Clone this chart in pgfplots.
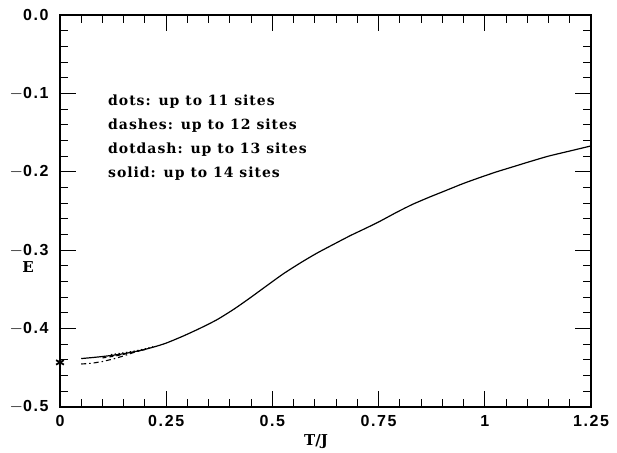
\documentclass[border=0pt]{standalone}
\usepackage{fontspec}
\setmainfont{Liberation Sans}
\newfontfamily\legfont[LetterSpace=7]{DejaVu Serif}
\newfontfamily\tickfont[LetterSpace=10]{Liberation Sans}
\newfontfamily\labfont{DejaVu Serif}
\usepackage{pgfplots}
\pgfplotsset{compat=1.18}
\begin{document}
\begin{tikzpicture}
\begin{axis}[
  scale only axis,
  width=531pt, height=392pt,
  xmin=0, xmax=1.25, ymin=-0.5, ymax=0,
  clip=false,
  axis line style={line width=1.2pt},
  tick style={line width=1pt, black},
  tick align=inside,
  major tick length=16pt,
  minor tick length=8pt,
  xtick={0,0.25,0.5,0.75,1,1.25},
  xticklabels={0,0.25,0.5,0.75,1,1.25},
  ytick={-0.5,-0.4,-0.3,-0.2,-0.1,0},
  yticklabels={$-$0.5,$-$0.4,$-$0.3,$-$0.2,$-$0.1,0.0},
  minor x tick num=4,
  minor y tick num=4,
  ticklabel style={font=\tickfont\fontsize{16}{18}\selectfont\bfseries},
  xticklabel style={yshift=-5pt},
  yticklabel style={xshift=-8pt},
]
\addplot[black, line width=1.2pt, smooth, tension=0.4] coordinates {
(0.05,-0.4382) (0.075,-0.4370) (0.1,-0.4356) (0.125,-0.4340) (0.15,-0.4320)
(0.175,-0.4295) (0.2,-0.4265) (0.225,-0.4228) (0.25,-0.4185) (0.29,-0.4095)
(0.33,-0.3995) (0.37,-0.3885) (0.41,-0.3750) (0.447,-0.3610) (0.49,-0.3440)
(0.526,-0.3300) (0.565,-0.3165) (0.604,-0.3040) (0.644,-0.2925) (0.683,-0.2815)
(0.714,-0.2735) (0.75,-0.2640) (0.793,-0.2515) (0.83,-0.2415) (0.871,-0.2320)
(0.91,-0.2235) (0.949,-0.2150) (0.99,-0.2070) (1.028,-0.2000) (1.067,-0.1935)
(1.106,-0.1870) (1.15,-0.1800) (1.2,-0.1735) (1.25,-0.1670)
};
\addplot[black, line width=1.1pt, dash pattern=on 5pt off 3pt on 1.5pt off 3pt] coordinates {
(0.05,-0.4452) (0.075,-0.4442) (0.1,-0.4420) (0.125,-0.4388) (0.15,-0.4348)
(0.175,-0.4302) (0.2,-0.4266)
};
\addplot[black, line width=1.1pt, dash pattern=on 4pt off 3pt] coordinates {
(0.1,-0.4374) (0.125,-0.4354) (0.15,-0.4328) (0.175,-0.4298) (0.2,-0.4266)
};
\addplot[black, line width=1.3pt, dash pattern=on 1.3pt off 2.5pt] coordinates {
(0.12,-0.4333) (0.15,-0.4310) (0.175,-0.4288) (0.2,-0.4260) (0.225,-0.4224)
};
\addplot[black, only marks, mark=asterisk, mark size=4.5pt, mark options={line width=1.8pt}] coordinates {(0,-0.4431)};
\end{axis}
\begin{scope}[every node/.style={anchor=base west, inner sep=0pt, font=\legfont\fontsize{14}{16}\selectfont\bfseries}]
\node at (48pt,392pt-91pt) {dots: up to 11 sites};
\node at (48pt,392pt-115pt) {dashes: up to 12 sites};
\node at (48pt,392pt-139pt) {dotdash: up to 13 sites};
\node at (48pt,392pt-163pt) {solid: up to 14 sites};
\end{scope}
\node[font=\labfont\fontsize{15}{18}\selectfont\bfseries] at (-32pt,140pt) {E};
\node[font=\labfont\fontsize{15}{18}\selectfont\bfseries] at (256pt,-35pt) {T/J};
\path (-60pt,-41pt) rectangle (557pt,407pt);
\end{tikzpicture}
\end{document}
